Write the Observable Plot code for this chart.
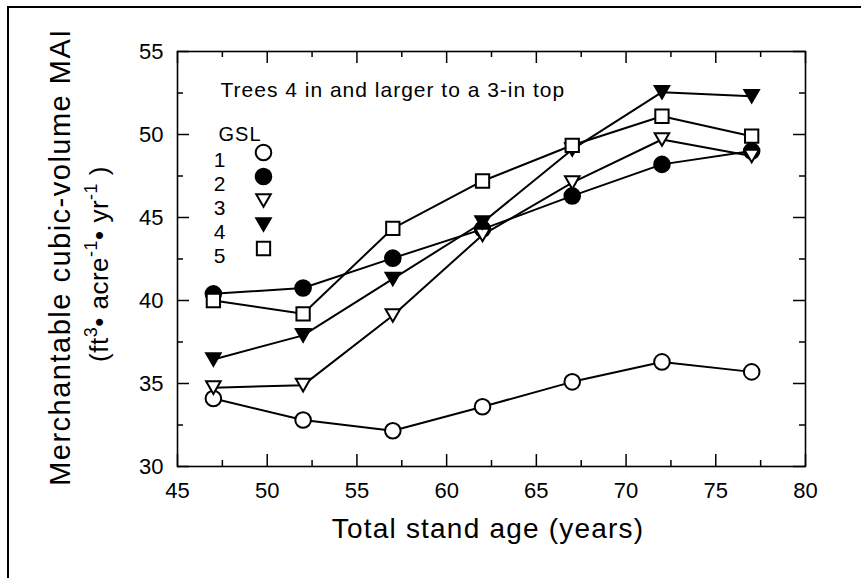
<!DOCTYPE html>
<html><head><meta charset="utf-8">
<script src="https://cdn.jsdelivr.net/npm/d3@7"></script>
<script src="https://cdn.jsdelivr.net/npm/@observablehq/plot@0.6"></script>
<style>
html,body{margin:0;padding:0;background:#fff;}
#wrap{position:relative;width:861px;height:578px;overflow:hidden;}
#border{position:absolute;left:7px;top:6px;width:1000px;height:700px;border-top:2px solid #000;border-left:2px solid #000;}
svg{position:absolute;left:0;top:0;}
</style>
</head><body>
<div id="wrap"><div id="border"></div></div>
<script>
const years = [47, 52, 57, 62, 67, 72, 77];
const gsl1 = [34.1, 32.8, 32.15, 33.6, 35.1, 36.3, 35.7];
const gsl2 = [40.4, 40.75, 42.55, 44.3, 46.3, 48.2, 49.0];
const gsl3 = [34.75, 34.9, 39.1, 43.95, 47.1, 49.7, 48.7];
const gsl4 = [36.45, 37.9, 41.3, 44.7, 49.1, 52.55, 52.3];
const gsl5 = [40.0, 39.2, 44.35, 47.2, 49.35, 51.1, 49.9];
const seriesNames = ["1", "2", "3", "4", "5"];
const xMajor = [45, 50, 55, 60, 65, 70, 75, 80];
const xMinor = [47.5, 52.5, 57.5, 62.5, 67.5, 72.5, 77.5];
const yMajor = [30, 35, 40, 45, 50, 55];
const yMinor = [32.5, 37.5, 42.5, 47.5, 52.5];
const noteText = "Trees 4 in and larger to a 3-in top";
const legendTitle = "GSL";
const xTitle = "Total stand age (years)";
const yTitle = "Merchantable cubic-volume MAI";

const allSeries = [gsl1, gsl2, gsl3, gsl4, gsl5];
const rows = [];
allSeries.forEach((vals, i) => vals.forEach((v, j) => rows.push({gsl: seriesNames[i], year: years[j], mai: v})));

const triDown = {draw(ctx, size) {
  const s = Math.sqrt(size);
  const h = s * Math.sqrt(3) / 2;
  ctx.moveTo(-s / 2, -h / 2); ctx.lineTo(s / 2, -h / 2); ctx.lineTo(0, h / 2); ctx.closePath();
}};
const styles = [
  {symbol: "circle", fill: "white", r: 7.8},
  {symbol: "circle", fill: "black", r: 7.8},
  {symbol: triDown, fill: "white", r: 8.2},
  {symbol: triDown, fill: "black", r: 8.2},
  {symbol: "square", fill: "white", r: 7.5}
];

const W = 861, H = 578, mL = 177, mR = 56, mT = 51, mB = 112;
const fw = W - mL - mR, fh = H - mT - mB;
const font = "'Liberation Sans', Arial, Helvetica, sans-serif";

const marks = [
  Plot.frame({stroke: "black", strokeWidth: 1.6}),
  Plot.ruleX(xMajor, {x: d => d, insetTop: fh - 12, stroke: "black", strokeWidth: 1.5}),
  Plot.ruleX(xMajor, {x: d => d, insetBottom: fh - 12, stroke: "black", strokeWidth: 1.5}),
  Plot.ruleX(xMinor, {x: d => d, insetTop: fh - 6, stroke: "black", strokeWidth: 1.5}),
  Plot.ruleX(xMinor, {x: d => d, insetBottom: fh - 6, stroke: "black", strokeWidth: 1.5}),
  Plot.ruleY(yMajor, {y: d => d, insetRight: fw - 12, stroke: "black", strokeWidth: 1.5}),
  Plot.ruleY(yMajor, {y: d => d, insetLeft: fw - 12, stroke: "black", strokeWidth: 1.5}),
  Plot.ruleY(yMinor, {y: d => d, insetRight: fw - 6, stroke: "black", strokeWidth: 1.5}),
  Plot.ruleY(yMinor, {y: d => d, insetLeft: fw - 6, stroke: "black", strokeWidth: 1.5}),
  Plot.axisX({ticks: xMajor, tickSize: 0, tickPadding: 16, fontSize: 22, label: null, tickFormat: d => String(d)}),
  Plot.axisY({ticks: yMajor, tickSize: 0, tickPadding: 14, fontSize: 22, label: null, tickFormat: d => String(d)}),
  Plot.lineY(rows, {x: "year", y: "mai", z: "gsl", stroke: "black", strokeWidth: 2})
];
seriesNames.forEach((g, i) => {
  const st = styles[i];
  marks.push(Plot.dot(rows.filter(d => d.gsl === g), {x: "year", y: "mai", symbol: () => st.symbol, r: st.r, fill: st.fill, stroke: "black", strokeWidth: 2}));
});
marks.push(Plot.text([noteText], {frameAnchor: "top-left", dx: 43, dy: 31, textAnchor: "start", fontSize: 21, text: d => d, fill: "black"}));
marks.push(Plot.text([legendTitle], {frameAnchor: "top-left", dx: 41, dy: 75, textAnchor: "start", fontSize: 20, text: d => d, fill: "black"}));
seriesNames.forEach((g, i) => {
  const st = styles[i];
  marks.push(Plot.text([g], {frameAnchor: "top-left", dx: 49, dy: 101 + i * 24, textAnchor: "end", fontSize: 21, text: d => d, fill: "black"}));
  marks.push(Plot.dot([g], {frameAnchor: "top-left", dx: 86, dy: 101 + i * 24, symbol: () => st.symbol, r: st.r, fill: st.fill, stroke: "black", strokeWidth: 2}));
});

const chart = Plot.plot({
  width: W, height: H,
  marginLeft: mL, marginRight: mR, marginTop: mT, marginBottom: mB,
  x: {domain: [45, 80]},
  y: {domain: [30, 55]},
  symbol: {type: "identity"},
  style: {fontFamily: font, fontSize: "22px", color: "black", background: "transparent", overflow: "visible"},
  marks
});

const svg = d3.select(chart);
svg.selectAll("[aria-label='text'] text").style("letter-spacing", "1px");
svg.append("text")
  .attr("transform", "translate(70,257) rotate(-90)")
  .attr("text-anchor", "middle")
  .attr("fill", "black")
  .style("font-size", "29px").style("letter-spacing", "1.5px")
  .text(yTitle);
const t2 = svg.append("text")
  .attr("transform", "translate(108,264) rotate(-90)")
  .attr("text-anchor", "middle")
  .attr("fill", "black")
  .style("font-size", "26px").style("letter-spacing", "0.5px");
const parts = [["(ft", 0], ["3", 1], ["\u2022 acre", 0], ["-1", 1], ["\u2022 yr", 0], ["-1", 1], [" )", 0]];
let cur = 0;
parts.forEach(([s, sup]) => {
  const target = sup ? -11 : 0;
  t2.append("tspan").attr("dy", target - cur).style("font-size", sup ? "18px" : "26px").text(s);
  cur = target;
});
svg.append("text")
  .attr("x", 488).attr("y", 538)
  .attr("text-anchor", "middle")
  .attr("fill", "black")
  .style("font-size", "28px").style("letter-spacing", "1.2px")
  .text(xTitle);

document.getElementById("wrap").appendChild(chart);
</script>
</body></html>
